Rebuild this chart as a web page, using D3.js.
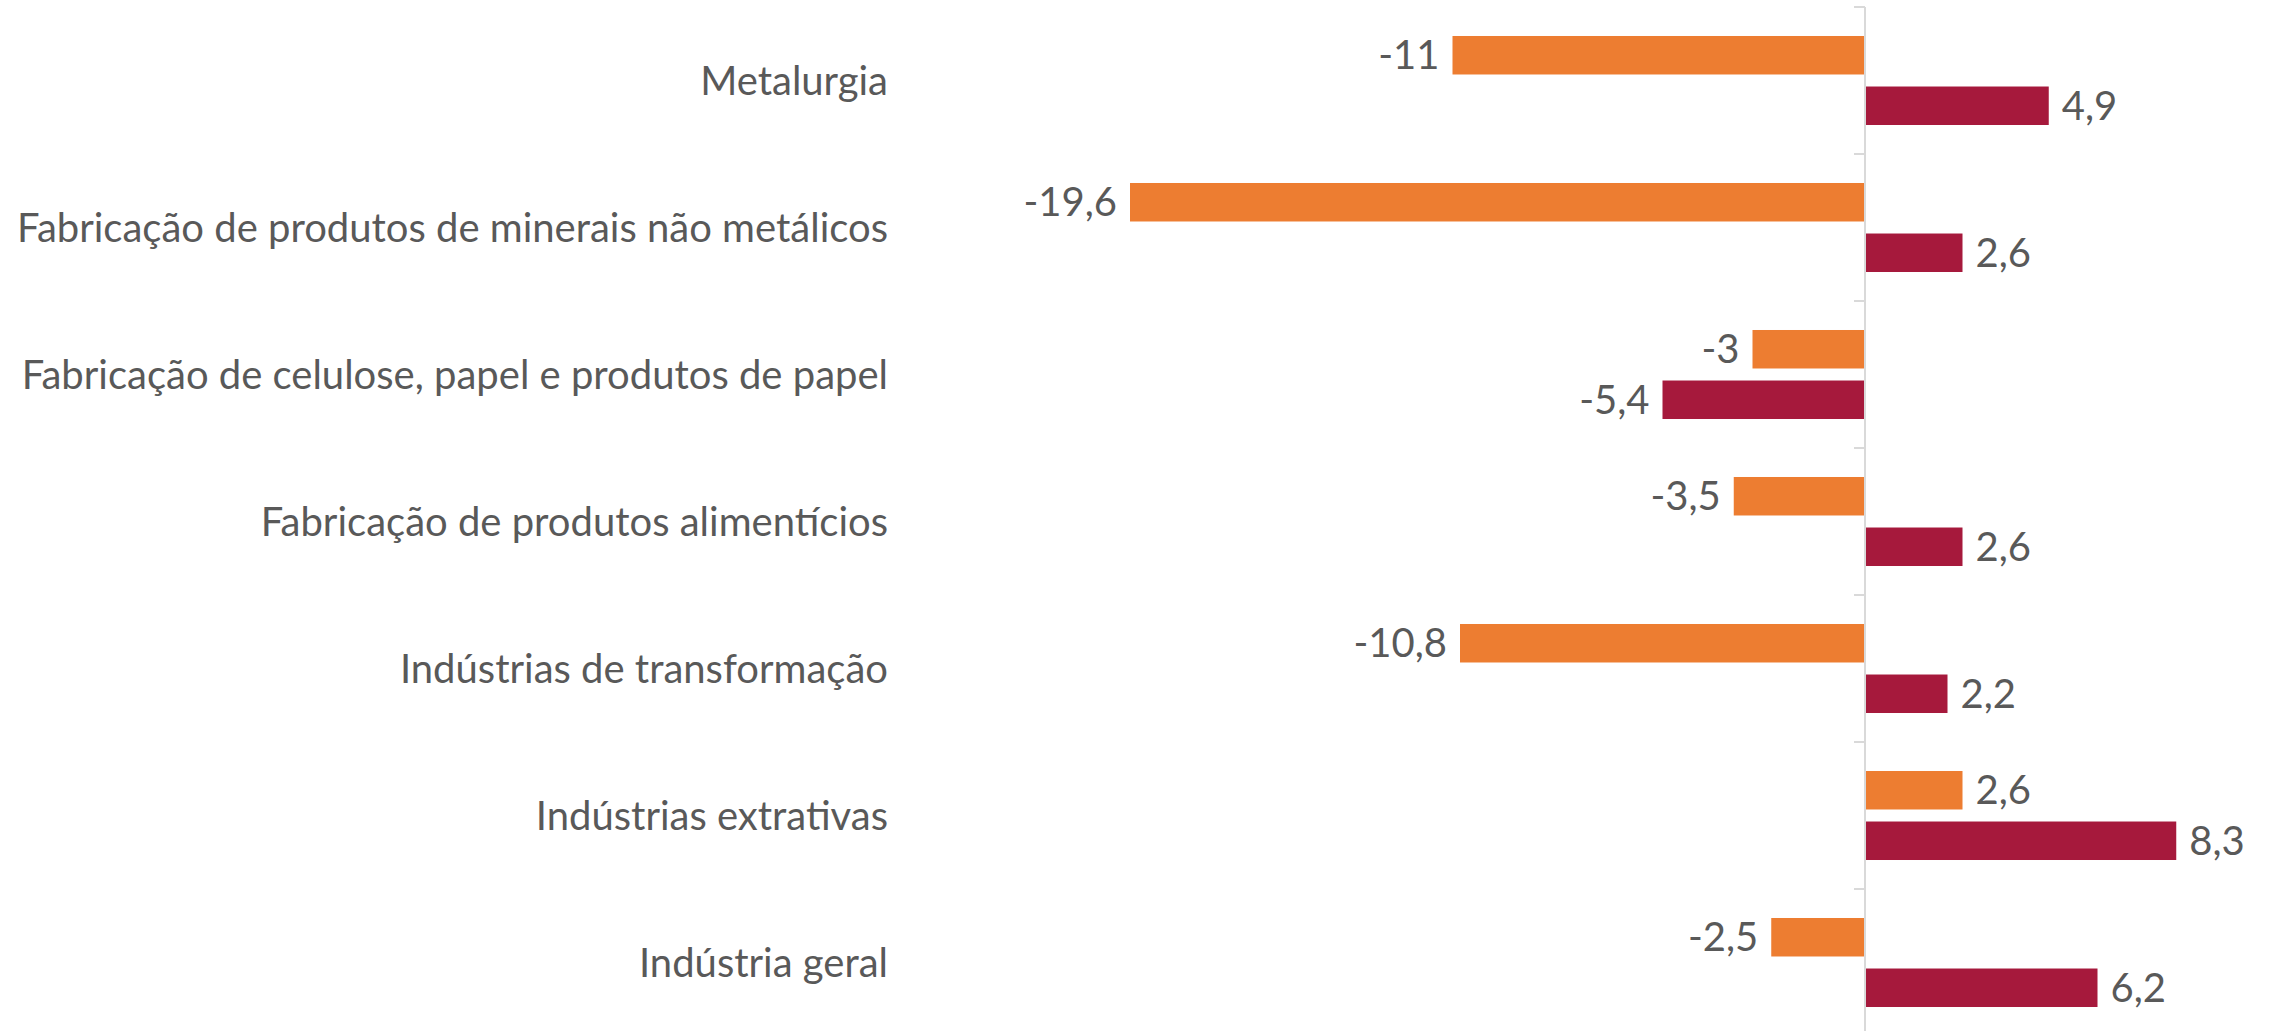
<!DOCTYPE html>
<html>
<head>
<meta charset="utf-8">
<script src="https://cdn.jsdelivr.net/npm/d3@7"></script>
<style>
  html, body { margin: 0; padding: 0; background: #fff; }
  svg { display: block; }
  text { font-family: Lato, "Open Sans", sans-serif; fill: #595959; }
</style>
</head>
<body>
<svg width="2275" height="1031"></svg>
<script>
const categories = [
  "Metalurgia",
  "Fabricação de produtos de minerais não metálicos",
  "Fabricação de celulose, papel e produtos de papel",
  "Fabricação de produtos alimentícios",
  "Indústrias de transformação",
  "Indústrias extrativas",
  "Indústria geral"
];
const seriesA = [-11, -19.6, -3, -3.5, -10.8, 2.6, -2.5]; // orange
const seriesB = [4.9, 2.6, -5.4, 2.6, 2.2, 8.3, 6.2];     // crimson
const seriesKeys = ["a", "b"];
const colors = { a: "#ED7D31", b: "#A6193C" };

const data = categories.map((c, i) => ({ name: c, a: seriesA[i], b: seriesB[i] }));

const svg = d3.select("svg");

// value axis - 0 sits at x=1865, ~37.5px per unit
const x = d3.scaleLinear()
  .domain([-20, 10])
  .range([1115, 2240]);

// category bands
const y = d3.scaleBand()
  .domain(categories)
  .range([7, 7 + 7 * 147]);

// the two bars inside each band
const y1 = d3.scaleBand()
  .domain(seriesKeys)
  .range([0, y.bandwidth()])
  .paddingInner(0.238)
  .paddingOuter(0.574);

const fmt = (v) => String(v).replace(".", ",");

const groups = svg.selectAll("g.cat")
  .data(data)
  .enter()
  .append("g")
  .attr("class", "cat")
  .attr("transform", (d) => `translate(0,${y(d.name)})`);

groups.selectAll("rect")
  .data((d) => seriesKeys.map((k) => ({ key: k, value: d[k] })))
  .enter()
  .append("rect")
  .attr("x", (d) => x(Math.min(0, d.value)))
  .attr("y", (d) => y1(d.key))
  .attr("width", (d) => Math.abs(x(d.value) - x(0)))
  .attr("height", y1.bandwidth())
  .attr("fill", (d) => colors[d.key]);

// value labels
groups.selectAll("text.val")
  .data((d) => seriesKeys.map((k) => ({ key: k, value: d[k] })))
  .enter()
  .append("text")
  .attr("class", "val")
  .attr("x", (d) => d.value < 0 ? x(d.value) - 13 : x(d.value) + 13)
  .attr("y", (d) => y1(d.key) + y1.bandwidth() / 2)
  .attr("dy", "0.35em")
  .attr("text-anchor", (d) => d.value < 0 ? "end" : "start")
  .style("font-size", "40px")
  .text((d) => fmt(d.value));

// category axis at zero
const axis = svg.append("g")
  .attr("transform", `translate(${x(0)},0)`);

axis.append("line")
  .attr("x1", 0).attr("x2", 0)
  .attr("y1", y.range()[0]).attr("y2", y.range()[1])
  .attr("stroke", "#D9D9D9")
  .attr("stroke-width", 2);

axis.selectAll("line.tick")
  .data(d3.range(categories.length + 1))
  .enter()
  .append("line")
  .attr("class", "tick")
  .attr("x1", -11).attr("x2", 0)
  .attr("y1", (i) => y.range()[0] + i * y.step())
  .attr("y2", (i) => y.range()[0] + i * y.step())
  .attr("stroke", "#D9D9D9")
  .attr("stroke-width", 2);

// category labels on the left
svg.selectAll("text.cat")
  .data(categories)
  .enter()
  .append("text")
  .attr("class", "cat")
  .attr("x", 888)
  .attr("y", (d) => y(d) + y.bandwidth() / 2)
  .attr("dy", "0.35em")
  .attr("text-anchor", "end")
  .style("font-size", "40px")
  .text((d) => d);
</script>
</body>
</html>
